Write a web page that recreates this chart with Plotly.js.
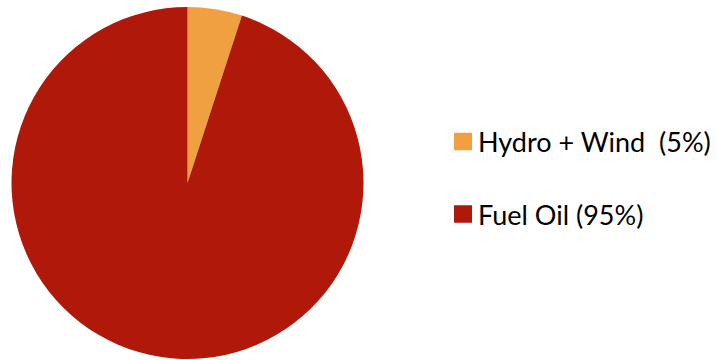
<!DOCTYPE html>
<html>
<head>
<meta charset="utf-8">
<script src="https://cdn.plot.ly/plotly-3.0.1.min.js"></script>
<style>
  html, body { margin: 0; padding: 0; background: #fff; }
  #chart { width: 717px; height: 360px; }
</style>
</head>
<body>
<div id="chart"></div>
<script>
// Electricity generation mix by source (share, %)
const sources = ['Hydro + Wind', 'Fuel Oil'];
const shares = [5, 95];
const legendLabels = ['Hydro + Wind  (5%)', 'Fuel Oil (95%)'];
const sliceColors = ['#F0A040', '#B0190A'];

const W = 717, H = 360;

// Pie geometry in pixels
const cx = 187.5, cy = 183, r = 176;

const trace = {
  type: 'pie',
  labels: sources,
  values: shares,
  sort: false,
  direction: 'clockwise',
  rotation: 0,
  textinfo: 'none',
  hoverinfo: 'label+percent',
  marker: { colors: sliceColors, line: { width: 0 } },
  domain: {
    x: [(cx - r) / W, (cx + r) / W],
    y: [(H - cy - r) / H, (H - cy + r) / H]
  },
  showlegend: false
};

// Hand-built legend: coloured squares with labels
const rowCenters = [141.5, 214];
const sq = 17.5;
const shapes = [];
const annotations = [];
legendLabels.forEach((txt, i) => {
  const yc = rowCenters[i];
  shapes.push({
    type: 'rect', xref: 'paper', yref: 'paper',
    x0: 454 / W, x1: (454 + 18) / W,
    y0: 1 - (yc + sq / 2) / H, y1: 1 - (yc - sq / 2) / H,
    fillcolor: sliceColors[i], line: { width: 0 }
  });
  annotations.push({
    xref: 'paper', yref: 'paper',
    x: 476 / W, y: 1 - yc / H,
    xanchor: 'left', yanchor: 'middle',
    text: txt, showarrow: false,
    font: { family: 'Lato, "Open Sans", sans-serif', size: 27, color: '#000' }
  });
});

const layout = {
  width: W, height: H,
  margin: { l: 0, r: 0, t: 0, b: 0 },
  paper_bgcolor: '#fff',
  showlegend: false,
  shapes: shapes,
  annotations: annotations
};

Plotly.newPlot('chart', [trace], layout, { displayModeBar: false, staticPlot: true });
</script>
</body>
</html>
